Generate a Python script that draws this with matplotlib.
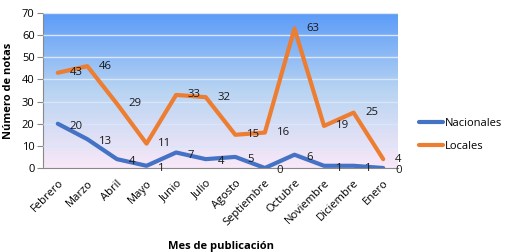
import numpy as np
import matplotlib.pyplot as plt
from matplotlib.colors import LinearSegmentedColormap

meses = ['Febrero', 'Marzo', 'Abril', 'Mayo', 'Junio', 'Julio', 'Agosto',
         'Septiembre', 'Octubre', 'Noviembre', 'Diciembre', 'Enero']
nacionales = [20, 13, 4, 1, 7, 4, 5, 0, 6, 1, 1, 0]
locales = [43, 46, 29, 11, 33, 32, 15, 16, 63, 19, 25, 4]

plt.rcParams['font.family'] = ['Open Sans', 'DejaVu Sans']

fig = plt.figure(figsize=(5.07, 2.52), dpi=100)
ax = fig.add_axes([43 / 507, 1 - 168 / 252, 355 / 507, 155 / 252])

# gradient background
cmap = LinearSegmentedColormap.from_list('bg', ['#f9e8f8', '#b8d4f2', '#5b9bf8'])
grad = np.linspace(0, 1, 256).reshape(-1, 1)
ax.imshow(grad, cmap=cmap, aspect='auto', origin='lower',
          extent=[0, 1, 0, 1], transform=ax.transAxes, zorder=0)

x = np.arange(len(meses))
ax.plot(x, nacionales, color='#4472c4', lw=3, zorder=3, label='Nacionales',
        solid_capstyle='round')
ax.plot(x, locales, color='#ed7d31', lw=3, zorder=3, label='Locales',
        solid_capstyle='round')

for xi, v in zip(x, nacionales):
    ax.annotate(str(v), (xi, v), xytext=(8.5, -1.8), textcoords='offset points',
                ha='left', va='center', fontsize=8.2, color='#1a1a1a', zorder=4)
for xi, v in zip(x, locales):
    ax.annotate(str(v), (xi, v), xytext=(8.5, 0), textcoords='offset points',
                ha='left', va='center', fontsize=8.2, color='#1a1a1a', zorder=4)

ax.set_xlim(-0.5, 11.5)
ax.set_ylim(0, 70)
ax.set_yticks(range(0, 71, 10))
ax.yaxis.grid(True, color='#d8e6fa', lw=1, zorder=1)
ax.set_axisbelow(False)
ax.set_xticks(x)
ax.set_xticklabels(meses, rotation=45, ha='right', rotation_mode='anchor', fontsize=8)
ax.tick_params(axis='x', length=0, pad=7)
ax.tick_params(axis='y', length=4, color='#888888', labelsize=8, pad=2)
for s in ['top', 'right']:
    ax.spines[s].set_visible(False)
ax.spines['left'].set_color('#888888')
ax.spines['bottom'].set_color('#888888')

ax.set_ylabel('Número de notas', fontsize=8, fontweight='bold', labelpad=6)
ax.set_xlabel('Mes de publicación', fontsize=8, fontweight='bold', labelpad=9)

ax.legend(loc='center left', bbox_to_anchor=(1.03, 0.215), frameon=False,
          fontsize=8, handlelength=2.2, handletextpad=0.2, labelspacing=1.1)

fig.savefig('out.png', dpi=100)
